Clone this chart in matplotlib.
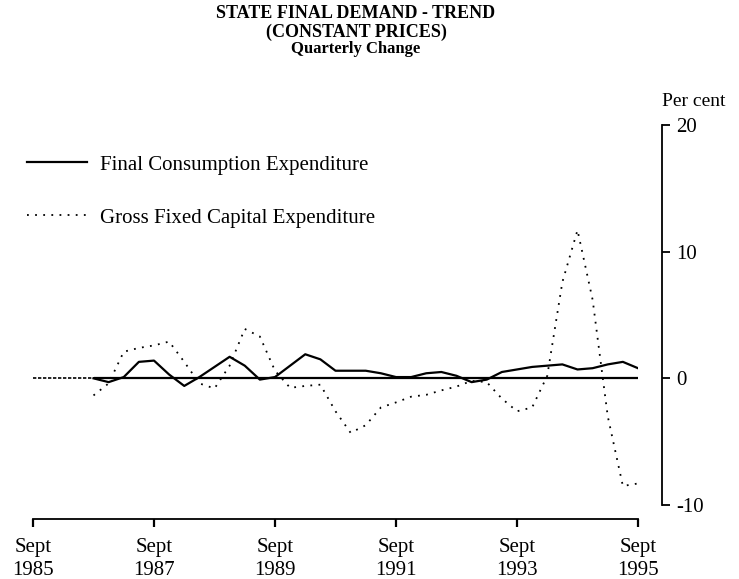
import matplotlib
matplotlib.use("Agg")
import matplotlib.pyplot as plt
import pandas as pd

plt.rcParams["font.family"] = ["Liberation Serif", "DejaVu Serif"]

# quarterly trend, percentage change, Sept qtr 1986 .. Sept qtr 1995
quarters = pd.period_range("1986Q3", "1995Q3", freq="Q")
final_consumption = [
    0.0, -0.3, 0.1, 1.3, 1.4, 0.3, -0.6, 0.1, 0.9, 1.7,
    1.0, -0.1, 0.1, 1.0, 1.9, 1.5, 0.6, 0.6, 0.6, 0.4,
    0.1, 0.1, 0.4, 0.5, 0.2, -0.3, -0.1, 0.5, 0.7, 0.9,
    1.0, 1.1, 0.7, 0.8, 1.1, 1.3, 0.8,
]
gross_fixed_capital = [
    -1.35, -0.4, 2.1, 2.4, 2.6, 2.9, 1.3, -0.4, -0.8, 1.0,
    3.9, 3.3, 0.6, -0.75, -0.6, -0.5, -2.6, -4.3, -3.7, -2.3,
    -1.9, -1.45, -1.3, -0.95, -0.65, -0.2, -0.3, -1.6, -2.6, -2.3,
    0.2, 7.6, 11.7, 6.2, -3.0, -8.5, -8.3,
]
tick_years = [1985, 1987, 1989, 1991, 1993, 1995]
y_ticks = [-10, 0, 10, 20]

# Sept quarter of a year sits at the whole year
x = [p.year + (p.quarter - 3) / 4 for p in quarters]

W, H = 739, 579
fig = plt.figure(figsize=(W / 100, H / 100), dpi=100)
ax = fig.add_axes([33 / W, 74 / H, (638 - 33) / W, (505 - 125) / H])

ax.hlines(0, tick_years[0], x[0], color="black", lw=1.2, linestyles=(0, (2, 1)))
ax.hlines(0, x[0], tick_years[-1], color="black", lw=1.6)
ax.plot(x, final_consumption, color="black", lw=1.6,
        label="Final Consumption Expenditure")
ax.plot(x, gross_fixed_capital, color="black", lw=1.3, linestyle=(0, (1, 3.5)),
        label="Gross Fixed Capital Expenditure")

ax.set_xlim(tick_years[0], tick_years[-1])
ax.set_ylim(y_ticks[0], y_ticks[-1])

for side in ("left", "top"):
    ax.spines[side].set_visible(False)
ax.spines["right"].set_position(("outward", 17.3))
ax.spines["bottom"].set_position(("outward", 10.1))
ax.spines["right"].set_linewidth(1.3)
ax.spines["bottom"].set_linewidth(1.3)

ax.yaxis.tick_right()
ax.set_yticks(y_ticks)
ax.set_yticklabels([str(v) for v in y_ticks])
ax.tick_params(axis="y", direction="out", length=6, width=1.3, labelsize=15, pad=4)

ax.set_xticks(tick_years)
ax.set_xticklabels([f"Sept\n{yr}" for yr in tick_years], linespacing=1.25)
ax.tick_params(axis="x", direction="out", length=6, width=1.6, labelsize=15, pad=8)

fig.text(662 / W, 1 - 102 / H, "Per cent", fontsize=14, ha="left", va="center")

ax.legend(loc="upper left", bbox_to_anchor=(27 / W, 1 - 155 / H),
          bbox_transform=fig.transFigure, frameon=False, fontsize=15,
          handlelength=2.9, handletextpad=0.6, labelspacing=1.6,
          borderpad=0, borderaxespad=0)

fig.text(356 / W, 1 - 13 / H, "STATE FINAL DEMAND - TREND", ha="center",
         va="center", fontsize=13, fontweight="bold")
fig.text(356 / W, 1 - 32 / H, "(CONSTANT PRICES)", ha="center",
         va="center", fontsize=13, fontweight="bold")
fig.text(356 / W, 1 - 49 / H, "Quarterly Change", ha="center",
         va="center", fontsize=12, fontweight="bold")

fig.savefig("out.png", dpi=100)
